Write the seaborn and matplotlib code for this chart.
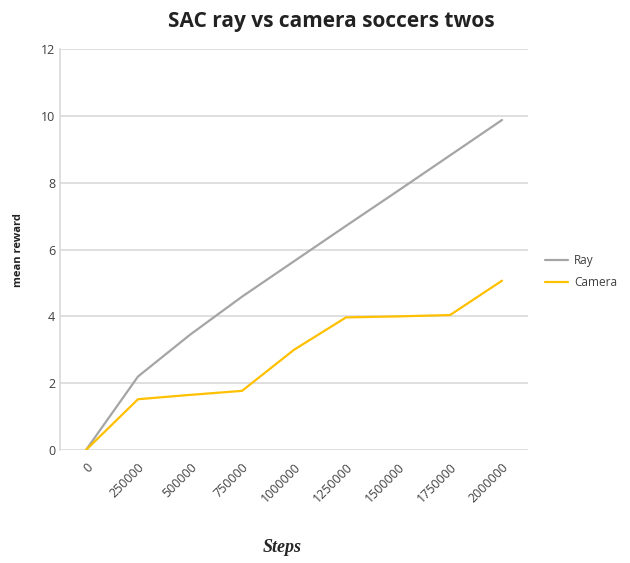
import seaborn as sns
import matplotlib.pyplot as plt
import pandas as pd

steps = [0, 250000, 500000, 750000, 1000000, 1250000, 1500000, 1750000, 2000000]
ray = [0, 2.2, 3.45, 4.59, 5.65, 6.71, 7.76, 8.82, 9.88]
camera = [0, 1.52, 1.65, 1.77, 3.0, 3.97, 4.0, 4.04, 5.07]

df = pd.DataFrame({
    'Steps': steps * 2,
    'reward': ray + camera,
    'series': ['Ray'] * len(steps) + ['Camera'] * len(steps),
})

sns.set_style('white')
plt.rcParams['font.family'] = ['Open Sans', 'DejaVu Sans']

fig = plt.figure(figsize=(6.3, 5.63), dpi=100)
ax = fig.add_axes([0.0952, 0.2007, 0.743, 0.712])

sns.lineplot(data=df, x='Steps', y='reward', hue='series',
             palette={'Ray': '#A5A5A5', 'Camera': '#FFC000'},
             linewidth=1.6, ax=ax)

ax.set_xlim(-125000, 2125000)
ax.set_ylim(0, 12)
ax.set_yticks(range(0, 13, 2))
ax.set_xticks(steps)
ax.set_xticklabels([str(s) for s in steps], rotation=45, ha='right',
                   rotation_mode='anchor')
ax.tick_params(axis='both', length=0, labelsize=9, colors='#404040')
ax.tick_params(axis='x', pad=8)
ax.yaxis.grid(True, color='#D9D9D9', linewidth=1.2)
ax.set_axisbelow(True)
for s in ['top', 'right', 'bottom']:
    ax.spines[s].set_visible(False)
ax.spines['left'].set_color('#D9D9D9')
ax.spines['left'].set_linewidth(1.2)

ax.set_xlabel('')
ax.set_ylabel('mean reward', fontsize=8, fontweight='bold', color='#222222', labelpad=12)
ax.set_title('SAC ray vs camera soccers twos', fontsize=15, fontweight='bold',
             color='#222222', pad=16, x=0.58)

leg = ax.legend(loc='center left', bbox_to_anchor=(1.02, 0.445), frameon=False,
                fontsize=8.5, handlelength=2.0, handletextpad=0.5,
                labelspacing=0.7, borderaxespad=0.2)
for t in leg.get_texts():
    t.set_color('#404040')

fig.text(282 / 630, 1 - 548 / 563, 'Steps', ha='center', va='center',
         fontsize=13, fontweight='bold', fontstyle='italic',
         family='Liberation Serif')

fig.savefig('out.png', dpi=100)
